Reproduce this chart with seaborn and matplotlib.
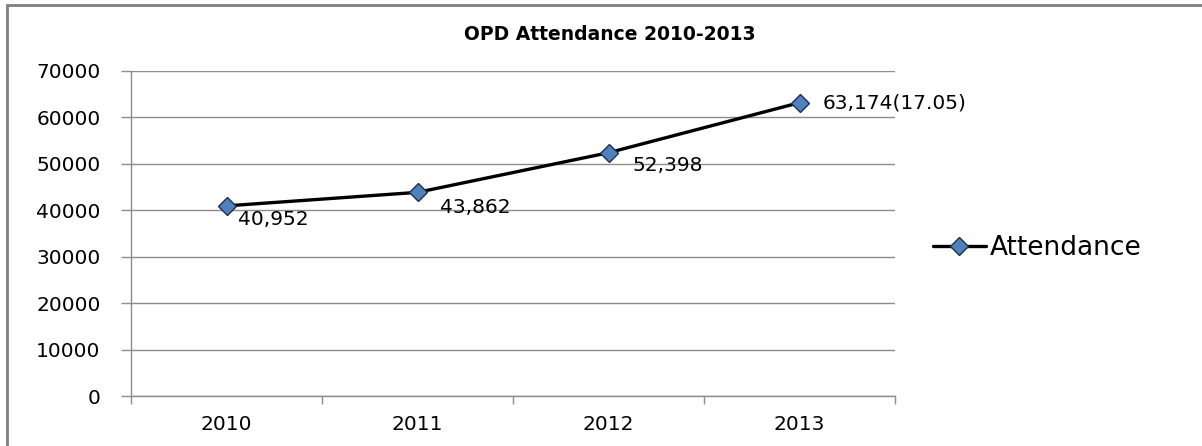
import matplotlib
matplotlib.use("Agg")
import matplotlib.pyplot as plt
from matplotlib.patches import Rectangle
from matplotlib.ticker import FixedLocator
import seaborn as sns

# data
years      = ["2010", "2011", "2012", "2013"]
attendance = [40952, 43862, 52398, 63174]
suffixes   = ["", "", "", "(17.05)"]

sns.set_style("white")
plt.rcParams.update({
    "font.family": "DejaVu Sans",
    "axes.edgecolor": "#8c8c8c",
    "axes.linewidth": 1.0,
    "text.color": "black",
    "xtick.labelcolor": "black",
    "ytick.labelcolor": "black",
    "xtick.bottom": True,
    "ytick.left": True,
})

GRID = "#8c8c8c"

fig = plt.figure(figsize=(12.02, 4.46), dpi=100)
ax = fig.add_axes([131 / 1202, 1 - 396 / 446, 764 / 1202, 325 / 446])

sns.lineplot(x=years, y=attendance, ax=ax, color="black", linewidth=2.4,
             marker="D", markersize=9.5, markerfacecolor="#4F81BD",
             markeredgecolor="#1F3050", markeredgewidth=1.0,
             label="Attendance")

ax.set_xlim(-0.5, 3.5)
ax.set_ylim(0, 70000)
ax.set_yticks(range(0, 70001, 10000))
ax.yaxis.grid(True, color=GRID, linewidth=1.0)
ax.set_axisbelow(True)
for side in ["top", "right"]:
    ax.spines[side].set_visible(False)

ax.tick_params(axis="y", left=True, length=7, width=1, color=GRID, pad=15, labelsize=14.5)
ax.tick_params(axis="x", which="major", length=0, pad=14, labelsize=14.5)
ax.xaxis.set_minor_locator(FixedLocator([-0.5, 0.5, 1.5, 2.5, 3.5]))
ax.tick_params(axis="x", which="minor", bottom=True, length=6, width=1, color=GRID)
ax.set_xlabel("")
ax.set_ylabel("")

# data labels
offsets = [(8, -10), (16, -11), (17, -9), (17, 0)]
for i, (v, s) in enumerate(zip(attendance, suffixes)):
    ax.annotate(f"{v:,}{s}", (i, v), xytext=offsets[i], textcoords="offset points",
                ha="left", va="center", fontsize=14.5, color="black")

ax.legend(loc="center left", bbox_to_anchor=(933 / 1202, 1 - 248 / 446),
          bbox_transform=fig.transFigure, frameon=False, fontsize=19,
          handlelength=2.0, handletextpad=0.15, borderpad=0, borderaxespad=0)

fig.text(610 / 1202, 1 - 35 / 446, "OPD Attendance 2010-2013",
         ha="center", va="center", fontsize=13.5, fontweight="bold", color="black")

# outer chart frame
fig.patches.append(Rectangle((7 / 1202, -0.1), 1.2, 1 - 5 / 446 + 0.1,
                             transform=fig.transFigure, fill=False,
                             edgecolor="#7f7f7f", linewidth=2))

fig.savefig("out.png", dpi=100)
